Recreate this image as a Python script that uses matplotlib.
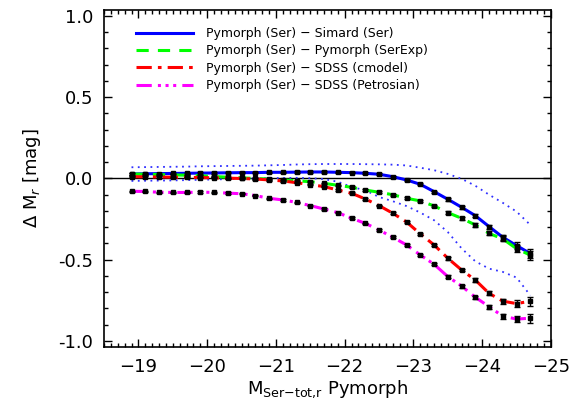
import numpy as np
import matplotlib
matplotlib.use("Agg")
import matplotlib.pyplot as plt
from matplotlib.ticker import MultipleLocator

# absolute magnitude bins (Pymorph Ser total, r band)
mag = [-18.9, -19.1, -19.3, -19.5, -19.7, -19.9, -20.1, -20.3, -20.5, -20.7,
       -20.9, -21.1, -21.3, -21.5, -21.7, -21.9, -22.1, -22.3, -22.5, -22.7,
       -22.9, -23.1, -23.3, -23.5, -23.7, -23.9, -24.1, -24.3, -24.5, -24.7]

simard = [0.028, 0.029, 0.030, 0.031, 0.032, 0.033, 0.034, 0.035, 0.036, 0.036,
          0.038, 0.038, 0.039, 0.040, 0.040, 0.038, 0.036, 0.032, 0.026, 0.011,
          -0.009, -0.036, -0.081, -0.128, -0.177, -0.229, -0.296, -0.362, -0.413, -0.462]

serexp = [0.028, 0.026, 0.024, 0.022, 0.020, 0.017, 0.012, 0.008, 0.004, 0.000,
          -0.004, -0.009, -0.014, -0.020, -0.030, -0.042, -0.054, -0.071, -0.085, -0.100,
          -0.122, -0.138, -0.169, -0.210, -0.245, -0.286, -0.338, -0.372, -0.432, -0.472]

cmodel = [0.011, 0.010, 0.009, 0.008, 0.007, 0.006, 0.004, 0.002, 0.000, -0.003,
          -0.009, -0.015, -0.026, -0.038, -0.050, -0.071, -0.091, -0.126, -0.167, -0.214,
          -0.268, -0.341, -0.409, -0.491, -0.563, -0.625, -0.707, -0.755, -0.770, -0.755]

petro = [-0.079, -0.080, -0.085, -0.086, -0.086, -0.084, -0.086, -0.090, -0.094, -0.105,
         -0.122, -0.132, -0.147, -0.167, -0.188, -0.210, -0.245, -0.276, -0.317, -0.362,
         -0.409, -0.471, -0.528, -0.604, -0.662, -0.731, -0.789, -0.848, -0.865, -0.860]

# errors on the mean
err = [0.004, 0.004, 0.004, 0.004, 0.004, 0.004, 0.004, 0.004, 0.004, 0.004,
       0.004, 0.004, 0.004, 0.004, 0.004, 0.004, 0.005, 0.005, 0.005, 0.006,
       0.006, 0.007, 0.007, 0.008, 0.009, 0.010, 0.012, 0.015, 0.020, 0.028]

# scatter envelope of the Simard difference
simard_hi = [0.069, 0.070, 0.071, 0.072, 0.073, 0.075, 0.076, 0.077, 0.078, 0.079,
             0.081, 0.083, 0.086, 0.088, 0.089, 0.089, 0.089, 0.088, 0.087, 0.085,
             0.080, 0.066, 0.051, 0.028, -0.002, -0.045, -0.100, -0.150, -0.204, -0.286]
simard_lo = [-0.015, -0.014, -0.013, -0.012, -0.010, -0.008, -0.006, -0.004, -0.002, 0.000,
             0.002, 0.003, 0.004, 0.002, -0.004, -0.020, -0.052, -0.073, -0.114, -0.140,
             -0.170, -0.210, -0.257, -0.330, -0.430, -0.510, -0.555, -0.575, -0.610, -0.720]

labels = ["Pymorph (Ser) \u2212 Simard (Ser)",
          "Pymorph (Ser) \u2212 Pymorph (SerExp)",
          "Pymorph (Ser) \u2212 SDSS (cmodel)",
          "Pymorph (Ser) \u2212 SDSS (Petrosian)"]
colors = ["#0000ff", "#00ff00", "#ff0000", "#ff00ff"]
styles = ["-", (0, (4, 3)), (0, (5, 2, 1.2, 2)), (0, (5, 2, 1, 1.5, 1, 1.5, 1, 2))]


def main():
    fig = plt.figure(figsize=(5.82, 4.12), dpi=100)
    ax = fig.add_axes([0.1787, 0.1578, 0.768, 0.818])

    ax.axhline(0, color="black", lw=1)
    ax.plot(mag, simard_hi, color="#3030ff", lw=1.3, ls=(0, (1, 2.5)))
    ax.plot(mag, simard_lo, color="#3030ff", lw=1.3, ls=(0, (1, 2.5)))

    series = [simard, serexp, cmodel, petro]
    for y, c, s, lab in zip(series, colors, styles, labels):
        ax.plot(mag, y, color=c, ls=s, lw=2.2, label=lab)
        ax.errorbar(mag, y, yerr=err, fmt="s", ms=2.2, color="black",
                    ecolor="black", elinewidth=1, capsize=2, capthick=1)

    ax.set_xlim(-18.5, -25)
    ax.set_ylim(-1.037, 1.037)
    ax.xaxis.set_major_locator(MultipleLocator(1))
    ax.xaxis.set_minor_locator(MultipleLocator(0.1))
    ax.yaxis.set_major_locator(MultipleLocator(0.5))
    ax.yaxis.set_minor_locator(MultipleLocator(0.1))
    ax.yaxis.set_major_formatter(matplotlib.ticker.FormatStrFormatter("%.1f"))
    ax.tick_params(which="both", direction="in", top=True, right=True,
                   labelsize=13, width=1)
    ax.tick_params(which="major", length=6, pad=8)
    ax.tick_params(which="minor", length=3)
    for sp in ax.spines.values():
        sp.set_linewidth(1.2)

    ax.set_xlabel(r"M$_{\mathregular{Ser{-}tot{,}r}}$ Pymorph", fontsize=13, labelpad=2)
    ax.set_ylabel(r"$\Delta$ M$_r$ [mag]", fontsize=13, labelpad=11)

    ax.legend(loc="upper left", bbox_to_anchor=(0.06, 0.964), frameon=False,
              fontsize=9, handlelength=4.6, handletextpad=1.0, labelspacing=0.35,
              borderaxespad=0)

    fig.savefig("out.png", dpi=100)
    plt.close(fig)


if __name__ == "__main__":
    main()
